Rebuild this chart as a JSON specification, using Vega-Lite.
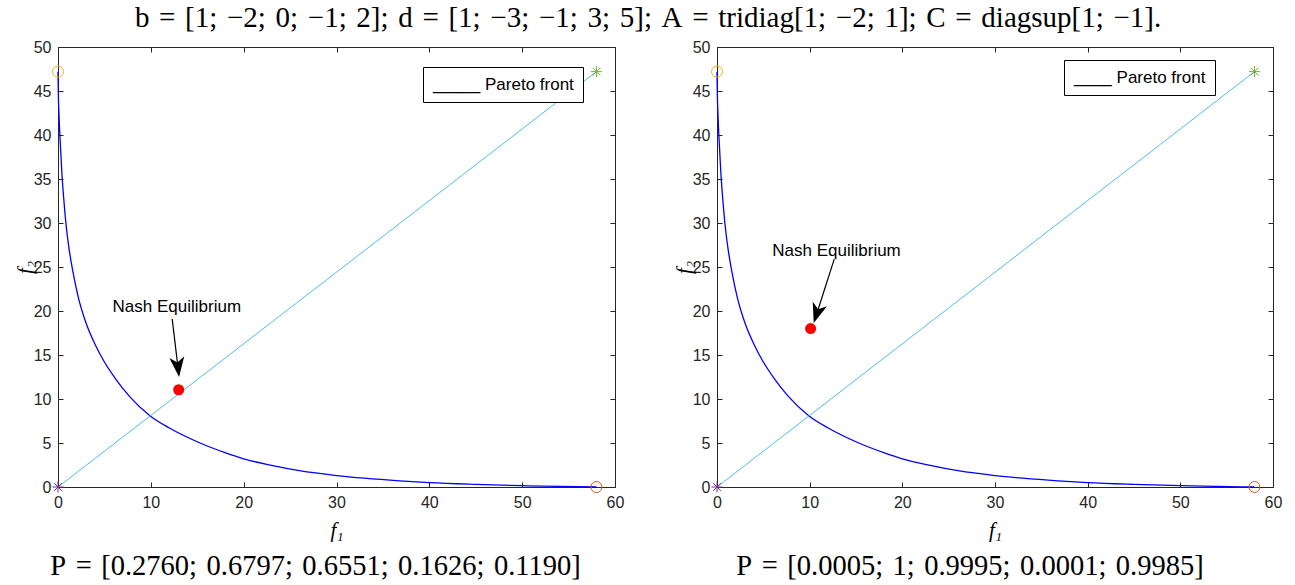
{
  "$schema": "https://vega.github.io/schema/vega-lite/v6.json",
  "background": "white",
  "padding": {"left": 14, "top": 4, "right": 5, "bottom": 5},
  "title": {"text": "b\u2004=\u2004[1;\u2004−2;\u20040;\u2004−1;\u20042];\u2004d\u2004=\u2004[1;\u2004−3;\u2004−1;\u20043;\u20045];\u2004A\u2004=\u2004tridiag[1;\u2004−2;\u20041];\u2004C\u2004=\u2004diagsup[1;\u2004−1].", "font": "Liberation Serif", "fontSize": 29, "fontWeight": "normal", "color": "black", "anchor": "middle", "offset": 6},
  "resolve": {"scale": {"color": "independent"}},
  "datasets": {
    "front": [
      {"f1": 0, "f2": 47.2}, {"f1": 0.03, "f2": 45}, {"f1": 0.1, "f2": 42.5}, {"f1": 0.2, "f2": 40},
      {"f1": 0.4, "f2": 36}, {"f1": 0.6, "f2": 33}, {"f1": 0.85, "f2": 30}, {"f1": 1.2, "f2": 27},
      {"f1": 1.6, "f2": 24.5}, {"f1": 2.2, "f2": 21.5}, {"f1": 3.0, "f2": 18.7}, {"f1": 4.0, "f2": 16.2},
      {"f1": 5.0, "f2": 14.2}, {"f1": 6.2, "f2": 12.3}, {"f1": 7.7, "f2": 10.3}, {"f1": 9.9, "f2": 8.1},
      {"f1": 12, "f2": 6.7}, {"f1": 15.3, "f2": 5.0}, {"f1": 18, "f2": 3.9}, {"f1": 20, "f2": 3.2},
      {"f1": 23, "f2": 2.45}, {"f1": 26, "f2": 1.85}, {"f1": 30, "f2": 1.3}, {"f1": 33, "f2": 1.0},
      {"f1": 36.8, "f2": 0.7}, {"f1": 40, "f2": 0.5}, {"f1": 45, "f2": 0.3}, {"f1": 50, "f2": 0.15},
      {"f1": 54, "f2": 0.06}, {"f1": 58, "f2": 0}
    ],
    "diag": [{"f1": 0, "f2": 0}, {"f1": 58, "f2": 47.2}],
    "ends": [
      {"f1": 0, "f2": 47.2, "point": "a"},
      {"f1": 58, "f2": 47.2, "point": "b"},
      {"f1": 58, "f2": 0, "point": "c"},
      {"f1": 0, "f2": 0, "point": "d"}
    ]
  },
  "config": {
    "view": {"stroke": null},
    "axis": {"domainColor": "#262626", "tickColor": "#262626", "labelColor": "#262626", "labelFont": "Liberation Sans", "labelFontSize": 16, "tickSize": -5, "grid": false, "labelFlush": false, "titleFont": "Liberation Serif", "titleFontStyle": "italic", "titleFontWeight": "normal", "titleFontSize": 21, "titleColor": "black"},
    "legend": {"orient": "none", "title": null, "strokeColor": "black", "fillColor": "white", "padding": 9, "labelFont": "Liberation Sans", "labelFontSize": 17, "labelColor": "black", "symbolSize": 1, "symbolStrokeWidth": 0, "symbolOpacity": 0, "labelOffset": -16, "cornerRadius": 0}
  },
  "spacing": 49,
  "hconcat": [
    {
      "width": 557, "height": 440,
      "title": {"text": "P\u2004=\u2004[0.2760;\u20040.6797;\u20040.6551;\u20040.1626;\u20040.1190]", "orient": "bottom", "font": "Liberation Serif", "fontSize": 28.5, "fontWeight": "normal", "color": "black", "anchor": "middle", "dx": -21, "offset": 12},
      "resolve": {"axis": {"x": "independent", "y": "independent"}},
      "layer": [
        {
          "data": {"name": "front"},
          "mark": {"type": "line", "strokeWidth": 1.3, "interpolate": "monotone"},
          "encoding": {
            "x": {"field": "f1", "type": "quantitative", "scale": {"domain": [0, 60], "nice": false}, "axis": {"values": [0, 10, 20, 30, 40, 50, 60], "title": "f₁", "labelPadding": 12, "titlePadding": 9}},
            "y": {"field": "f2", "type": "quantitative", "scale": {"domain": [0, 50], "nice": false}, "axis": {"values": [0, 5, 10, 15, 20, 25, 30, 35, 40, 45, 50], "title": "f₂", "labelPadding": 12, "titlePadding": -2}},
            "color": {"datum": "_____ Pareto front", "scale": {"range": ["#0000ff"]}, "legend": {"legendX": 365, "legendY": 20}}
          }
        },
        {
          "data": {"name": "diag"},
          "mark": {"type": "line", "strokeWidth": 1, "color": "#4dbeee"},
          "encoding": {
            "x": {"field": "f1", "type": "quantitative", "axis": {"orient": "top", "values": [0, 10, 20, 30, 40, 50, 60], "labels": false, "title": null}},
            "y": {"field": "f2", "type": "quantitative", "axis": {"orient": "right", "values": [0, 5, 10, 15, 20, 25, 30, 35, 40, 45, 50], "labels": false, "title": null}}
          }
        },
        {
          "data": {"name": "ends"},
          "mark": {"type": "point", "filled": false, "strokeWidth": 1, "size": 121, "opacity": 1},
          "encoding": {
            "x": {"field": "f1", "type": "quantitative", "axis": null},
            "y": {"field": "f2", "type": "quantitative", "axis": null},
            "shape": {"field": "point", "type": "nominal", "legend": null, "scale": {"domain": ["a", "b", "c", "d"], "range": ["circle", "M-1,0H1M0,-1V1M-0.7,-0.7L0.7,0.7M-0.7,0.7L0.7,-0.7", "circle", "M-1,0H1M0,-1V1M-0.7,-0.7L0.7,0.7M-0.7,0.7L0.7,-0.7"]}},
            "stroke": {"field": "point", "type": "nominal", "legend": null, "scale": {"domain": ["a", "b", "c", "d"], "range": ["#edb120", "#77ac30", "#d95319", "#7e2f8e"]}}
          }
        },
        {
          "data": {"values": [{"f1": 13.0, "f2": 11.05}]},
          "mark": {"type": "point", "filled": true, "color": "#ff0000", "size": 121, "opacity": 1},
          "encoding": {"x": {"field": "f1", "type": "quantitative", "axis": null}, "y": {"field": "f2", "type": "quantitative", "axis": null}}
        },
        {
          "data": {"values": [{"x1": 12.3, "y1": 19.1, "x2": 12.92, "y2": 13.63}]},
          "mark": {"type": "rule", "color": "black", "strokeWidth": 1.2},
          "encoding": {"x": {"field": "x1", "type": "quantitative", "axis": null}, "y": {"field": "y1", "type": "quantitative", "axis": null}, "x2": {"field": "x2"}, "y2": {"field": "y2"}}
        },
        {
          "data": {"values": [{"f1": 12.92, "f2": 13.63}]},
          "mark": {"type": "point", "shape": "M0,1L-0.75,-1L0,-0.45L0.75,-1Z", "filled": true, "color": "black", "size": 400, "angle": 353.5, "opacity": 1},
          "encoding": {"x": {"field": "f1", "type": "quantitative", "axis": null}, "y": {"field": "f2", "type": "quantitative", "axis": null}}
        },
        {
          "data": {"values": [{"f1": 12.8, "f2": 20.4, "label": "Nash Equilibrium"}]},
          "mark": {"type": "text", "font": "Liberation Sans", "fontSize": 17, "color": "black", "baseline": "middle", "align": "center"},
          "encoding": {"x": {"field": "f1", "type": "quantitative", "axis": null}, "y": {"field": "f2", "type": "quantitative", "axis": null}, "text": {"field": "label"}}
        }
      ]
    },
    {
      "width": 556, "height": 440,
      "title": {"text": "P\u2004=\u2004[0.0005;\u20041;\u20040.9995;\u20040.0001;\u20040.9985]", "orient": "bottom", "font": "Liberation Serif", "fontSize": 28.5, "fontWeight": "normal", "color": "black", "anchor": "middle", "dx": -25, "offset": 12},
      "resolve": {"axis": {"x": "independent", "y": "independent"}},
      "layer": [
        {
          "data": {"name": "front"},
          "mark": {"type": "line", "strokeWidth": 1.3, "interpolate": "monotone"},
          "encoding": {
            "x": {"field": "f1", "type": "quantitative", "scale": {"domain": [0, 60], "nice": false}, "axis": {"values": [0, 10, 20, 30, 40, 50, 60], "title": "f₁", "labelPadding": 12, "titlePadding": 9}},
            "y": {"field": "f2", "type": "quantitative", "scale": {"domain": [0, 50], "nice": false}, "axis": {"values": [0, 5, 10, 15, 20, 25, 30, 35, 40, 45, 50], "title": "f₂", "labelPadding": 12, "titlePadding": -2}},
            "color": {"datum": "____ Pareto front", "scale": {"range": ["#0000ff"]}, "legend": {"legendX": 347, "legendY": 13}}
          }
        },
        {
          "data": {"name": "diag"},
          "mark": {"type": "line", "strokeWidth": 1, "color": "#4dbeee"},
          "encoding": {
            "x": {"field": "f1", "type": "quantitative", "axis": {"orient": "top", "values": [0, 10, 20, 30, 40, 50, 60], "labels": false, "title": null}},
            "y": {"field": "f2", "type": "quantitative", "axis": {"orient": "right", "values": [0, 5, 10, 15, 20, 25, 30, 35, 40, 45, 50], "labels": false, "title": null}}
          }
        },
        {
          "data": {"name": "ends"},
          "mark": {"type": "point", "filled": false, "strokeWidth": 1, "size": 121, "opacity": 1},
          "encoding": {
            "x": {"field": "f1", "type": "quantitative", "axis": null},
            "y": {"field": "f2", "type": "quantitative", "axis": null},
            "shape": {"field": "point", "type": "nominal", "legend": null, "scale": {"domain": ["a", "b", "c", "d"], "range": ["circle", "M-1,0H1M0,-1V1M-0.7,-0.7L0.7,0.7M-0.7,0.7L0.7,-0.7", "circle", "M-1,0H1M0,-1V1M-0.7,-0.7L0.7,0.7M-0.7,0.7L0.7,-0.7"]}},
            "stroke": {"field": "point", "type": "nominal", "legend": null, "scale": {"domain": ["a", "b", "c", "d"], "range": ["#edb120", "#77ac30", "#d95319", "#7e2f8e"]}}
          }
        },
        {
          "data": {"values": [{"f1": 10.1, "f2": 18.0}]},
          "mark": {"type": "point", "filled": true, "color": "#ff0000", "size": 121, "opacity": 1},
          "encoding": {"x": {"field": "f1", "type": "quantitative", "axis": null}, "y": {"field": "f2", "type": "quantitative", "axis": null}}
        },
        {
          "data": {"values": [{"x1": 12.65, "y1": 25.9, "x2": 10.77, "y2": 19.72}]},
          "mark": {"type": "rule", "color": "black", "strokeWidth": 1.2},
          "encoding": {"x": {"field": "x1", "type": "quantitative", "axis": null}, "y": {"field": "y1", "type": "quantitative", "axis": null}, "x2": {"field": "x2"}, "y2": {"field": "y2"}}
        },
        {
          "data": {"values": [{"f1": 10.77, "f2": 19.72}]},
          "mark": {"type": "point", "shape": "M0,1L-0.75,-1L0,-0.45L0.75,-1Z", "filled": true, "color": "black", "size": 400, "angle": 17.8, "opacity": 1},
          "encoding": {"x": {"field": "f1", "type": "quantitative", "axis": null}, "y": {"field": "f2", "type": "quantitative", "axis": null}}
        },
        {
          "data": {"values": [{"f1": 12.9, "f2": 26.85, "label": "Nash Equilibrium"}]},
          "mark": {"type": "text", "font": "Liberation Sans", "fontSize": 17, "color": "black", "baseline": "middle", "align": "center"},
          "encoding": {"x": {"field": "f1", "type": "quantitative", "axis": null}, "y": {"field": "f2", "type": "quantitative", "axis": null}, "text": {"field": "label"}}
        }
      ]
    }
  ]
}
